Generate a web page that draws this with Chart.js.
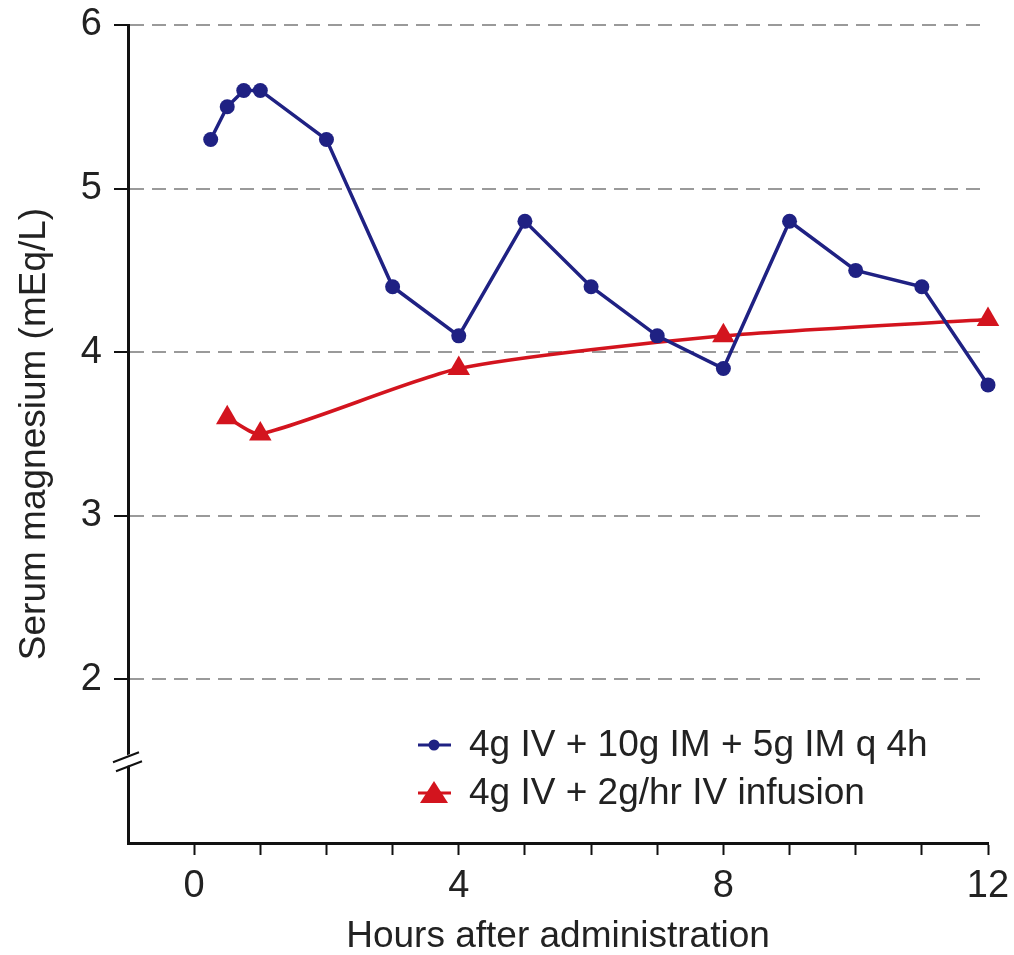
<!DOCTYPE html>
<html>
<head>
<meta charset="utf-8">
<script src="https://cdn.jsdelivr.net/npm/chart.js@4.4.0/dist/chart.umd.min.js"></script>
<style>
html, body { margin: 0; padding: 0; background: #fff; }
#wrap { width: 1014px; height: 955px; }
</style>
</head>
<body>
<div id="wrap"><canvas id="mg_chart" width="1014" height="955"></canvas></div>
<script>
// 4g IV + 10g IM + 5g IM q 4h
const hoursIM = [0.25, 0.5, 0.75, 1, 2, 3, 4, 5, 6, 7, 8, 9, 10, 11, 12];
const mgIM = [5.3, 5.5, 5.6, 5.6, 5.3, 4.4, 4.1, 4.8, 4.4, 4.1, 3.9, 4.8, 4.5, 4.4, 3.8];

// 4g IV + 2g/hr IV infusion
const hoursInf = [0.5, 1, 4, 8, 12];
const mgInf = [3.6, 3.5, 3.9, 4.1, 4.2];

const seriesLabels = ['4g IV + 10g IM + 5g IM q 4h', '4g IV + 2g/hr IV infusion'];
const xTickLabels = [0, 4, 8, 12];
const yTickLabels = [2, 3, 4, 5, 6];

const FONT = "'Liberation Sans', Arial, Helvetica, sans-serif";
const TEXT = '#222';
const BLUE = '#1f2183';
const RED = '#d3141e';

// y axis break marks (//) at 1.5
const axisBreak = {
    id: 'axisBreak',
    afterDraw(chart) {
        const ctx = chart.ctx;
        const x = chart.scales.x.left;
        const y = chart.scales.y.getPixelForValue(1.5);
        ctx.save();
        ctx.fillStyle = '#fff';
        ctx.beginPath();
        ctx.moveTo(x - 14, y - 1);
        ctx.lineTo(x + 12, y - 11);
        ctx.lineTo(x + 14, y - 1);
        ctx.lineTo(x - 12, y + 9);
        ctx.closePath();
        ctx.fill();
        ctx.strokeStyle = '#111';
        ctx.lineWidth = 2;
        ctx.beginPath();
        ctx.moveTo(x - 15, y + 1);
        ctx.lineTo(x + 11, y - 9);
        ctx.moveTo(x - 12, y + 10);
        ctx.lineTo(x + 14, y);
        ctx.stroke();
        ctx.restore();
    }
};

// legend drawn inside the plot, bottom right
const innerLegend = {
    id: 'innerLegend',
    afterDraw(chart) {
        const ctx = chart.ctx;
        const area = chart.chartArea;
        const cx = area.left + 306;
        ctx.save();
        chart.data.datasets.forEach(function (ds, i) {
            const y = area.bottom - 98 + i * 48;
            ctx.strokeStyle = ds.borderColor;
            ctx.fillStyle = ds.borderColor;
            ctx.lineWidth = 3;
            ctx.beginPath();
            ctx.moveTo(cx - 16, y);
            ctx.lineTo(cx + 17, y);
            ctx.stroke();
            ctx.beginPath();
            if (ds.pointStyle === 'triangle') {
                ctx.moveTo(cx, y - 12);
                ctx.lineTo(cx + 14, y + 10);
                ctx.lineTo(cx - 14, y + 10);
                ctx.closePath();
            } else {
                ctx.arc(cx, y, 5.5, 0, Math.PI * 2);
            }
            ctx.fill();
            ctx.fillStyle = TEXT;
            ctx.font = '37px ' + FONT;
            ctx.textBaseline = 'middle';
            ctx.textAlign = 'left';
            ctx.fillText(ds.label, cx + 35, y + 1);
        });
        ctx.restore();
    }
};

document.addEventListener('DOMContentLoaded', function () {
    const ctx = document.getElementById('mg_chart').getContext('2d');

    new Chart(ctx, {
        type: 'line',
        data: {
            datasets: [{
                label: seriesLabels[0],
                data: hoursIM.map((h, i) => ({ x: h, y: mgIM[i] })),
                borderColor: BLUE,
                backgroundColor: BLUE,
                borderWidth: 3.5,
                pointStyle: 'circle',
                pointRadius: 7.5,
                pointBorderWidth: 0,
                tension: 0,
                clip: false
            }, {
                label: seriesLabels[1],
                data: hoursInf.map((h, i) => ({ x: h, y: mgInf[i] })),
                borderColor: RED,
                backgroundColor: RED,
                borderWidth: 3.5,
                pointStyle: 'triangle',
                pointRadius: 13,
                pointBorderWidth: 0,
                tension: 0.22,
                clip: false
            }]
        },
        options: {
            responsive: false,
            animation: false,
            layout: { padding: { top: 25, right: 26, left: 0, bottom: 0 } },
            plugins: {
                legend: { display: false },
                tooltip: { enabled: false }
            },
            scales: {
                x: {
                    type: 'linear',
                    min: -1,
                    max: 12,
                    afterFit: function (scale) {
                        scale.height = 112;
                        scale.paddingRight = 0;
                        scale.paddingLeft = 0;
                    },
                    ticks: {
                        stepSize: 1,
                        autoSkip: false,
                        maxRotation: 0,
                        padding: 9,
                        color: TEXT,
                        font: { family: FONT, size: 38 },
                        callback: v => xTickLabels.includes(v) ? String(v) : ''
                    },
                    grid: {
                        drawOnChartArea: false,
                        drawTicks: true,
                        tickLength: 12,
                        tickWidth: 2,
                        tickColor: c => (c.tick && c.tick.value < 0) ? 'rgba(0,0,0,0)' : '#111'
                    },
                    border: { color: '#111', width: 3 },
                    title: {
                        display: true,
                        text: 'Hours after administration',
                        color: TEXT,
                        font: { family: FONT, size: 37, lineHeight: 1 },
                        padding: { top: 0, bottom: 0 }
                    }
                },
                y: {
                    min: 1,
                    max: 6,
                    afterFit: function (scale) {
                        scale.width = 128;
                        scale.paddingTop = 0;
                        scale.paddingBottom = 0;
                    },
                    ticks: {
                        stepSize: 1,
                        padding: 12,
                        color: TEXT,
                        font: { family: FONT, size: 38 },
                        callback: v => yTickLabels.includes(v) ? String(v) : ''
                    },
                    grid: {
                        color: c => (c.tick && c.tick.value === 1) ? 'rgba(0,0,0,0)' : '#9a9a9a',
                        lineWidth: 2,
                        tickLength: 14,
                        tickWidth: 2,
                        tickColor: c => (c.tick && c.tick.value === 1) ? 'rgba(0,0,0,0)' : '#111'
                    },
                    border: { color: '#111', width: 3, dash: [14, 8] },
                    title: {
                        display: true,
                        text: 'Serum magnesium (mEq/L)',
                        color: TEXT,
                        font: { family: FONT, size: 37 },
                        padding: { top: 13, bottom: 0 }
                    }
                }
            }
        },
        plugins: [axisBreak, innerLegend]
    });
});
</script>
</body>
</html>
